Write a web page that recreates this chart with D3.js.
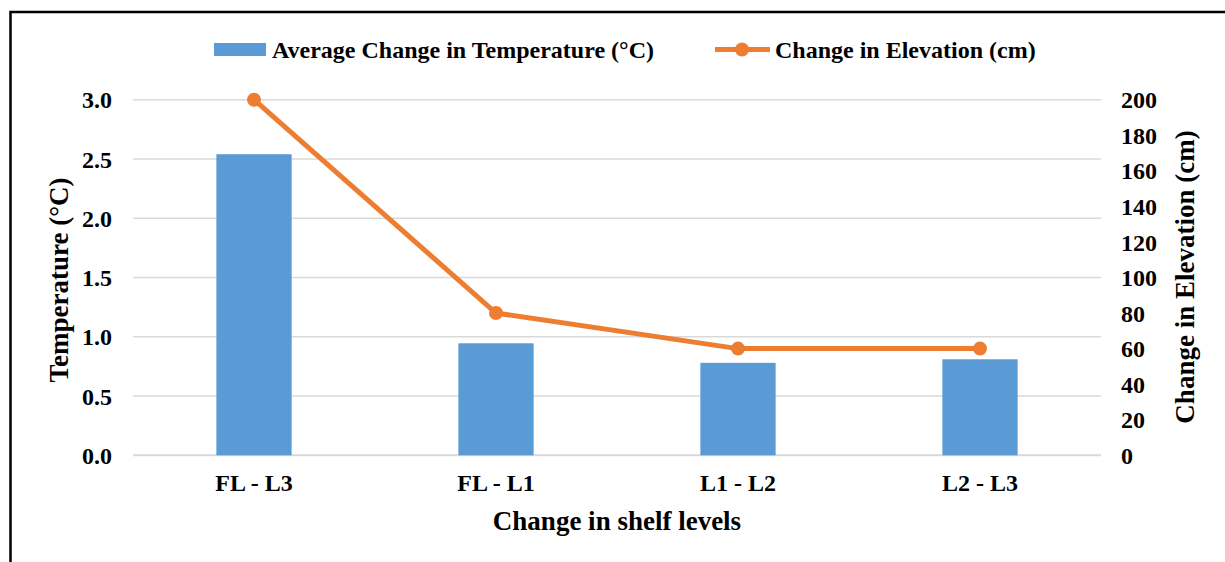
<!DOCTYPE html>
<html>
<head>
<meta charset="utf-8">
<script src="https://cdn.jsdelivr.net/npm/d3@7"></script>
<style>
  html, body { margin: 0; padding: 0; background: #fff; }
  svg { display: block; }
  text { font-family: "Liberation Serif", "Times New Roman", serif; font-weight: bold; fill: #000; }
</style>
</head>
<body>
<script>
// Shelf level comparisons and their measured values
const categories = ["FL - L3", "FL - L1", "L1 - L2", "L2 - L3"];
const tempChange = [2.54, 0.945, 0.78, 0.81];        // °C
const elevationChange = [200, 80, 60, 60];           // cm
const tempTicks = [0, 0.5, 1.0, 1.5, 2.0, 2.5, 3.0];
const elevTicks = [0, 20, 40, 60, 80, 100, 120, 140, 160, 180, 200];
const legendLabels = ["Average Change in Temperature (°C)", "Change in Elevation (cm)"];

const W = 1225, H = 562;
const plot = { left: 133, right: 1101, top: 99.7, bottom: 455.3 };
const barColor = "#5b9bd5", lineColor = "#ed7d31", gridColor = "#d9d9d9";
const tickFont = "24px", titleFont = "27px";

const svg = d3.select("body").append("svg").attr("width", W).attr("height", H);

// outer frame (open to the right and bottom)
svg.append("rect")
  .attr("x", 10.5).attr("y", 12).attr("width", 1400).attr("height", 1000)
  .attr("fill", "none").attr("stroke", "#000").attr("stroke-width", 2.5);

const x = d3.scaleBand().domain(categories).range([plot.left, plot.right]).padding(0);
const yL = d3.scaleLinear().domain([0, 3]).range([plot.bottom, plot.top]);
const yR = d3.scaleLinear().domain([0, 200]).range([plot.bottom, plot.top]);

// horizontal gridlines
svg.append("g").selectAll("line").data(tempTicks).join("line")
  .attr("x1", plot.left).attr("x2", plot.right)
  .attr("y1", d => yL(d)).attr("y2", d => yL(d))
  .attr("stroke", gridColor).attr("stroke-width", d => d === 0 ? 2 : 1.5);

// left axis
const leftAxis = svg.append("g").attr("transform", `translate(${plot.left - 21},0)`)
  .call(d3.axisLeft(yL).tickValues(tempTicks).tickFormat(d3.format(".1f")).tickSize(0).tickPadding(0));
leftAxis.select(".domain").remove();
leftAxis.selectAll("text").style("font-size", tickFont).attr("dy", "0.34em");

// right axis
const rightAxis = svg.append("g").attr("transform", `translate(${plot.right + 20},0)`)
  .call(d3.axisRight(yR).tickValues(elevTicks).tickFormat(d3.format("d")).tickSize(0).tickPadding(0));
rightAxis.select(".domain").remove();
rightAxis.selectAll("text").style("font-size", tickFont).attr("dy", "0.34em");

// bottom axis (category labels)
const bottomAxis = svg.append("g").attr("transform", `translate(0,${plot.bottom})`)
  .call(d3.axisBottom(x).tickSize(0).tickPadding(19));
bottomAxis.select(".domain").remove();
bottomAxis.selectAll("text").style("font-size", tickFont).attr("dy", "0.71em");

// bars
const barW = x.bandwidth() * 0.311;
svg.append("g").selectAll("rect").data(categories).join("rect")
  .attr("x", d => x(d) + x.bandwidth() / 2 - barW / 2)
  .attr("width", barW)
  .attr("y", (d, i) => yL(tempChange[i]))
  .attr("height", (d, i) => yL(0) - yL(tempChange[i]))
  .attr("fill", barColor);

// elevation line
const line = d3.line()
  .x((d, i) => x(categories[i]) + x.bandwidth() / 2)
  .y(d => yR(d));
svg.append("path").datum(elevationChange)
  .attr("d", line).attr("fill", "none")
  .attr("stroke", lineColor).attr("stroke-width", 5).attr("stroke-linejoin", "round");
svg.append("g").selectAll("circle").data(elevationChange).join("circle")
  .attr("cx", (d, i) => x(categories[i]) + x.bandwidth() / 2)
  .attr("cy", d => yR(d)).attr("r", 7).attr("fill", lineColor);

// axis titles
svg.append("text")
  .attr("transform", `translate(68,280) rotate(-90)`)
  .attr("text-anchor", "middle").style("font-size", titleFont).text("Temperature (°C)");
svg.append("text")
  .attr("transform", `translate(1194,277) rotate(-90)`)
  .attr("text-anchor", "middle").style("font-size", titleFont).text("Change in Elevation (cm)");
svg.append("text")
  .attr("x", 617).attr("y", 530)
  .attr("text-anchor", "middle").style("font-size", titleFont).text("Change in shelf levels");

// legend
const legend = svg.append("g");
legend.append("rect").attr("x", 214).attr("y", 43).attr("width", 52).attr("height", 13).attr("fill", barColor);
legend.append("text").attr("x", 272).attr("y", 57.5).style("font-size", tickFont).text(legendLabels[0]);
legend.append("line").attr("x1", 715).attr("x2", 770).attr("y1", 49.5).attr("y2", 49.5)
  .attr("stroke", lineColor).attr("stroke-width", 5);
legend.append("circle").attr("cx", 742).attr("cy", 49.5).attr("r", 7).attr("fill", lineColor);
legend.append("text").attr("x", 775).attr("y", 57.5).style("font-size", tickFont).text(legendLabels[1]);
</script>
</body>
</html>
